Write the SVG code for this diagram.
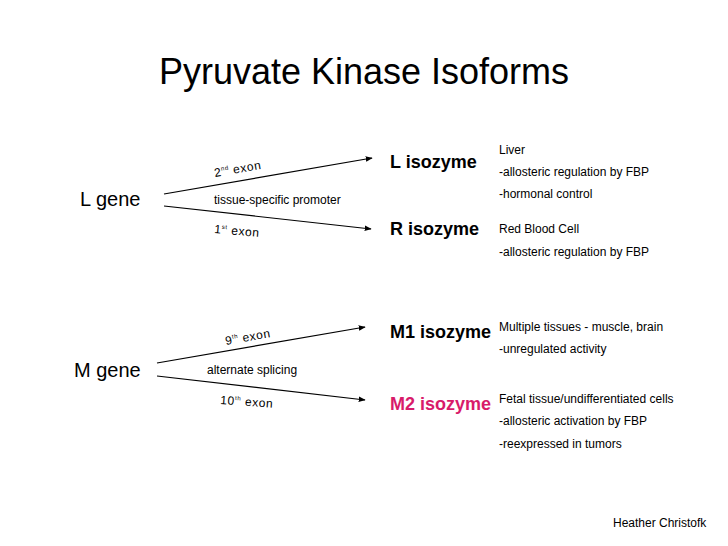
<svg xmlns="http://www.w3.org/2000/svg" width="728" height="546" viewBox="0 0 728 546">
<style>
text{font-family:"Liberation Sans",Arial,sans-serif;fill:#000}
.gene{font-size:20px}
.iso{font-size:18px;font-weight:bold}
.note{font-size:12px}
.exon{font-size:12px;letter-spacing:0.6px}
.sup{font-size:6px}
.conn line{stroke:#000;stroke-width:1.2;fill:none}
</style>
<defs>
<marker id="ah" viewBox="0 0 10 10" refX="9" refY="5" markerWidth="7" markerHeight="7" markerUnits="userSpaceOnUse" orient="auto">
<path d="M0,1 L10,5 L0,9 Z" fill="#000"/>
</marker>
</defs>
<rect width="728" height="546" fill="#fff"/>
<text x="364" y="84" font-size="36" text-anchor="middle">Pyruvate Kinase Isoforms</text>
<g class="conn">
<line x1="164" y1="194" x2="372" y2="158" marker-end="url(#ah)"/>
<line x1="164" y1="206" x2="371" y2="229" marker-end="url(#ah)"/>
<line x1="157" y1="363" x2="365" y2="327" marker-end="url(#ah)"/>
<line x1="157" y1="376" x2="365" y2="400" marker-end="url(#ah)"/>
</g>
<g id="lgene"><text class="gene" x="80" y="206">L gene</text></g>
<g id="mgene"><text class="gene" x="74" y="377">M gene</text></g>
<g id="lbl-l">
<text class="exon" transform="translate(215,177) rotate(-10)">2<tspan class="sup" dy="-5">nd</tspan><tspan dy="5"> exon</tspan></text>
<text class="note" x="214" y="204">tissue-specific promoter</text>
<text class="exon" transform="translate(214,233) rotate(5)">1<tspan class="sup" dy="-5">st</tspan><tspan dy="5"> exon</tspan></text>
</g>
<g id="lbl-m">
<text class="exon" transform="translate(226,345) rotate(-10)">9<tspan class="sup" dy="-5">th</tspan><tspan dy="5"> exon</tspan></text>
<text class="note" x="207" y="374">alternate splicing</text>
<text class="exon" transform="translate(220,404) rotate(4)">10<tspan class="sup" dy="-5">th</tspan><tspan dy="5"> exon</tspan></text>
</g>
<g id="liso">
<text class="iso" x="390" y="168">L isozyme</text>
<text class="note" x="499" y="154">Liver</text>
<text class="note" x="499" y="176">-allosteric regulation by FBP</text>
<text class="note" x="499" y="198">-hormonal control</text>
</g>
<g id="riso">
<text class="iso" x="390" y="235">R isozyme</text>
<text class="note" x="499" y="233">Red Blood Cell</text>
<text class="note" x="499" y="256">-allosteric regulation by FBP</text>
</g>
<g id="m1iso">
<text class="iso" x="390" y="338">M1 isozyme</text>
<text class="note" x="499" y="331">Multiple tissues - muscle, brain</text>
<text class="note" x="499" y="353">-unregulated activity</text>
</g>
<g id="m2iso">
<text class="iso" x="390" y="410" style="fill:#d81b6a">M2 isozyme</text>
<text class="note" x="499" y="403">Fetal tissue/undifferentiated cells</text>
<text class="note" x="499" y="425">-allosteric activation by FBP</text>
<text class="note" x="499" y="448">-reexpressed in tumors</text>
</g>
<text class="note" x="613" y="527">Heather Christofk</text>
</svg>
